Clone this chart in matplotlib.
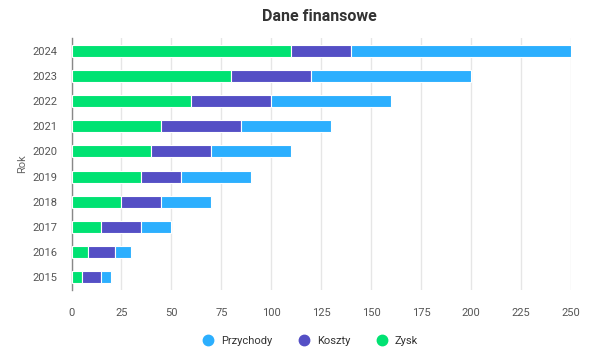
import matplotlib.pyplot as plt
import numpy as np
from matplotlib.lines import Line2D

plt.rcParams['font.family'] = ['Roboto', 'DejaVu Sans']

years = ['2015', '2016', '2017', '2018', '2019', '2020', '2021', '2022', '2023', '2024']
# segment lengths as stacked in the chart (left to right: Zysk, Koszty, Przychody)
zysk = [5, 8, 15, 25, 35, 40, 45, 60, 80, 110]
koszty = [10, 14, 20, 20, 20, 30, 40, 40, 40, 30]
przychody = [5, 8, 15, 25, 35, 40, 45, 60, 80, 110]
x_ticks = [0, 25, 50, 75, 100, 125, 150, 175, 200, 225, 250]

c_blue = '#2caffe'
c_purple = '#544fc5'
c_green = '#00e272'

fig = plt.figure(figsize=(6.15, 3.6), dpi=100)
ax = fig.add_axes([0.1163, 0.1944, 0.8122, 0.7])

y = np.arange(len(years))
h = 0.47
z = np.array(zysk)
k = np.array(koszty)
p = np.array(przychody)
ax.barh(y, z, height=h, color=c_green, edgecolor='white', linewidth=0.8, zorder=3)
ax.barh(y, k, left=z, height=h, color=c_purple, edgecolor='white', linewidth=0.8, zorder=3)
ax.barh(y, p, left=z + k, height=h, color=c_blue, edgecolor='white', linewidth=0.8, zorder=3)

ax.set_xlim(0, 250)
ax.set_ylim(-0.5, len(years) - 0.5)
ax.set_xticks(x_ticks)
ax.set_yticks(y)
ax.set_yticklabels(years)
ax.grid(axis='x', color='#e6e6e6', linewidth=1, zorder=0)
for s in ['top', 'right', 'bottom']:
    ax.spines[s].set_visible(False)
ax.spines['left'].set_color('#888888')
ax.spines['left'].set_linewidth(1)
ax.tick_params(axis='both', length=0, labelsize=8, colors='#555555')
ax.tick_params(axis='x', pad=13)
ax.tick_params(axis='y', pad=10)
ax.set_ylabel('Rok', fontsize=8, color='#666666', labelpad=4)

fig.suptitle('Dane finansowe', x=0.52, y=0.975, fontsize=11.5, fontweight='bold', color='#333333')

handles = [Line2D([], [], marker='o', linestyle='', markersize=7.5, color=c)
           for c in (c_blue, c_purple, c_green)]
fig.legend(handles, ['Przychody', 'Koszty', 'Zysk'], loc='center', bbox_to_anchor=(0.5, 0.053),
           ncol=3, frameon=False, fontsize=8, handletextpad=0.2, columnspacing=1.8,
           labelcolor='#333333')

fig.savefig('out.png', dpi=100)
